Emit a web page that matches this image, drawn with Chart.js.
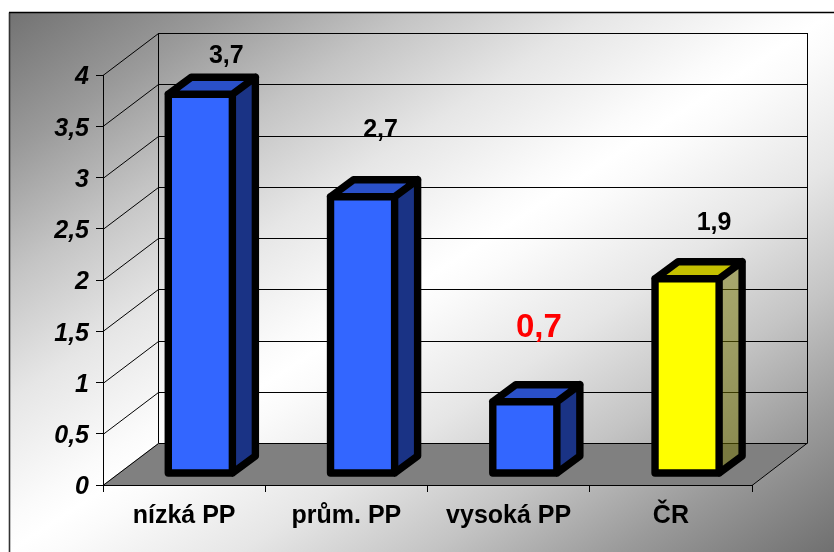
<!DOCTYPE html>
<html>
<head>
<meta charset="utf-8">
<style>html,body{margin:0;padding:0;background:#fff}canvas{display:block}</style>
<script src="https://cdn.jsdelivr.net/npm/chart.js@4"></script>
</head>
<body>
<canvas id="c" width="834" height="552"></canvas>
<script>
const categories = ['nízká PP', 'prům. PP', 'vysoká PP', 'ČR'];
const values = [3.7, 2.7, 0.7, 1.9];
const valueLabels = ['3,7', '2,7', '0,7', '1,9'];
const tickLabels = {0:'0', 0.5:'0,5', 1:'1', 1.5:'1,5', 2:'2', 2.5:'2,5', 3:'3', 3.5:'3,5', 4:'4'};

// styles
const frontColors = ['#3366FF', '#3366FF', '#3366FF', '#FFFF00'];
const topColors = ['#2A50C8', '#2A50C8', '#2A50C8', '#C4C000'];
const sideColors = ['#1A3385', '#1A3385', '#1A3385', 'rgba(115,115,0,0.5)'];
const labelColors = ['#000', '#000', '#FF0000', '#000'];
const labelSizes = [25, 25, 33, 25];
const labelShift = [[26, -38], [18, -67], [14, -74], [27, -56]];
const WALL = {dx: 55.5, dy: -42};
const BAR = {fx: 16.2, fy: -11.5, dx: 23, dy: -17};
const FONT = '"Liberation Sans"';
const bgStops = [[0,'#727272'],[0.13,'#9a9a9a'],[0.245,'#c4c4c4'],[0.36,'#e6e6e6'],[0.47,'#fbfbfb'],[0.5,'#ffffff'],
                 [0.53,'#fbfbfb'],[0.64,'#e6e6e6'],[0.755,'#c4c4c4'],[0.87,'#9a9a9a'],[1,'#707070']];

const scene = {
  id: 'scene',
  beforeDraw(chart) {
    const {ctx, scales: {x, y}, chartArea: a} = chart;
    ctx.save();
    const g = ctx.createLinearGradient(174, -96, 668, 660);
    bgStops.forEach(s => g.addColorStop(s[0], s[1]));
    ctx.fillStyle = g;
    ctx.fillRect(9, 12, 825, 540);
    ctx.strokeStyle = '#333';
    ctx.lineWidth = 1.6;
    ctx.beginPath();
    ctx.moveTo(9.5, 552); ctx.lineTo(9.5, 12.5);
    ctx.stroke();
    ctx.strokeStyle = '#000';
    ctx.lineWidth = 1.3;
    ctx.beginPath();
    ctx.moveTo(9, 12.5); ctx.lineTo(834, 12.5);
    ctx.stroke();

    const y0 = y.getPixelForValue(0), yT = y.getPixelForValue(4);
    ctx.fillStyle = '#808080';
    ctx.beginPath();
    ctx.moveTo(a.left, y0);
    ctx.lineTo(a.left + WALL.dx, y0 + WALL.dy);
    ctx.lineTo(a.right + WALL.dx, y0 + WALL.dy);
    ctx.lineTo(a.right, y0);
    ctx.closePath();
    ctx.fill();

    ctx.strokeStyle = '#000';
    ctx.lineWidth = 1;
    ctx.beginPath();
    for (const t of y.ticks) {
      const p = Math.round(y.getPixelForValue(t.value)) + 0.5;
      ctx.moveTo(a.left, p);
      ctx.lineTo(a.left + WALL.dx, p + WALL.dy);
      ctx.lineTo(a.right + WALL.dx, p + WALL.dy);
    }
    const bx = a.left + WALL.dx, rx = a.right + WALL.dx;
    ctx.moveTo(bx, yT + WALL.dy); ctx.lineTo(bx, y0 + WALL.dy);
    ctx.moveTo(rx, yT + WALL.dy); ctx.lineTo(rx, y0 + WALL.dy);
    ctx.lineTo(a.right, y0 + 0.5);
    ctx.stroke();
    ctx.restore();
  },
  beforeDatasetDraw(chart) {
    chart.ctx.save();
    chart.ctx.translate(BAR.fx, BAR.fy);
  },
  afterDatasetDraw(chart) {
    chart.ctx.restore();
    const ctx = chart.ctx;
    chart.getDatasetMeta(0).data.forEach((el, i) => {
      const w = el.width / 2;
      const l = el.x - w + BAR.fx, r = el.x + w + BAR.fx;
      const t = el.y + BAR.fy, b = el.base + BAR.fy;
      const d = BAR.dx, e = BAR.dy;
      ctx.save();
      ctx.fillStyle = sideColors[i];
      ctx.beginPath();
      ctx.moveTo(r, t); ctx.lineTo(r + d, t + e); ctx.lineTo(r + d, b + e); ctx.lineTo(r, b);
      ctx.closePath(); ctx.fill();
      ctx.fillStyle = topColors[i];
      ctx.beginPath();
      ctx.moveTo(l, t); ctx.lineTo(l + d, t + e); ctx.lineTo(r + d, t + e); ctx.lineTo(r, t);
      ctx.closePath(); ctx.fill();
      ctx.strokeStyle = '#000';
      ctx.lineWidth = 7.4;
      ctx.lineJoin = 'round';
      ctx.lineCap = 'round';
      ctx.beginPath();
      ctx.rect(l, t, r - l, b - t);
      ctx.moveTo(l, t); ctx.lineTo(l + d, t + e); ctx.lineTo(r + d, t + e); ctx.lineTo(r + d, b + e); ctx.lineTo(r, b);
      ctx.moveTo(r, t); ctx.lineTo(r + d, t + e);
      ctx.stroke();
      ctx.fillStyle = labelColors[i];
      ctx.font = 'bold ' + labelSizes[i] + 'px ' + FONT;
      ctx.textAlign = 'center';
      ctx.textBaseline = 'middle';
      ctx.fillText(valueLabels[i], el.x + BAR.fx + labelShift[i][0], t + labelShift[i][1]);
      ctx.restore();
    });
  }
};

new Chart(document.getElementById('c'), {
  type: 'bar',
  data: {
    labels: categories,
    datasets: [{
      data: values,
      backgroundColor: frontColors,
      borderWidth: 0,
      barPercentage: 0.395,
      categoryPercentage: 1
    }]
  },
  options: {
    responsive: false,
    animation: false,
    layout: {padding: {left: 0, top: 75, right: 82, bottom: 0}},
    plugins: {legend: {display: false}, tooltip: {enabled: false}, title: {display: false}},
    scales: {
      x: {
        afterFit(s) { s.height = 67; },
        grid: {drawOnChartArea: false, drawTicks: true, tickLength: 7, color: '#000', offset: true},
        border: {display: true, color: '#000', width: 1},
        ticks: {color: '#000', padding: 9, maxRotation: 0, font: {family: FONT, size: 25, weight: 'bold'}}
      },
      y: {
        min: 0, max: 4,
        afterFit(s) { s.width = 103; },
        grid: {drawOnChartArea: false, drawTicks: true, tickLength: 7, color: '#000'},
        border: {display: true, color: '#000', width: 1},
        ticks: {
          stepSize: 0.5, color: '#000', padding: 7, labelOffset: 2.5,
          font: {family: FONT, size: 25, weight: 'bold', style: 'italic'},
          callback: v => tickLabels[v]
        }
      }
    }
  },
  plugins: [scene]
});
</script>
</body>
</html>
